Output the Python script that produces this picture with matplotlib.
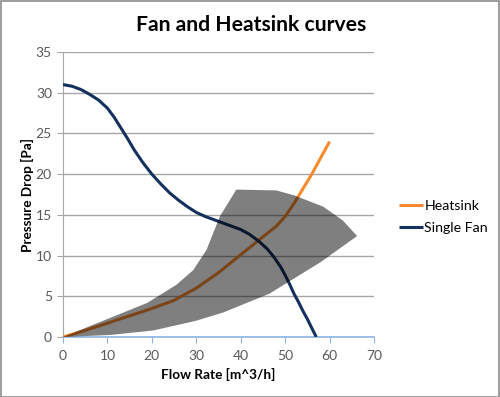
import matplotlib
matplotlib.use("Agg")
import matplotlib.pyplot as plt
from matplotlib.patches import Polygon, Rectangle

# Data
heatsink_x = [0, 5, 10, 15, 20, 25, 30, 35, 40, 45, 48, 50, 52, 54, 56, 58, 60]
heatsink_y = [0, 0.8, 1.7, 2.6, 3.5, 4.5, 6.0, 7.9, 10.1, 12.3, 13.6, 14.8, 16.4, 18.2, 20.0, 22.0, 24.0]

fan_x = [0, 2, 4, 6, 8, 10, 11.5, 13, 14.5, 16, 18, 20, 22, 24, 26, 28, 30, 32, 34, 36, 38, 40,
         42, 44, 46, 47.5, 49, 50, 51, 52, 53, 54, 55, 56, 57]
fan_y = [31, 30.8, 30.4, 29.8, 29.1, 28.1, 27.0, 25.7, 24.4, 23.0, 21.4, 20.0, 18.8, 17.7, 16.8, 16.0,
         15.3, 14.8, 14.4, 14.0, 13.6, 13.2, 12.6, 11.8, 10.8, 9.8, 8.6, 7.6, 6.5, 5.3, 4.3, 3.2, 2.2,
         1.1, 0]

region_x = [0, 19, 25.5, 29.3, 32.3, 35.3, 39, 48, 52, 58.6, 63, 66.2, 58, 46.4, 36, 30, 20.3, 10.6]
region_y = [0, 4.2, 6.4, 8.2, 10.7, 14.8, 18.1, 18.0, 17.4, 16.0, 14.3, 12.4, 9.2, 5.3, 3.0, 2.0, 0.8, 0.25]

xticks = [0, 10, 20, 30, 40, 50, 60, 70]
yticks = [0, 5, 10, 15, 20, 25, 30, 35]

plt.rcParams['font.family'] = ['Lato', 'DejaVu Sans']

W, H = 500, 397
fig = plt.figure(figsize=(W / 100, H / 100), dpi=100)
fig.patch.set_facecolor('white')
fig.patches.append(Rectangle((0.5 / W, 0.5 / H), 1 - 1.5 / W, 1 - 1.5 / H, transform=fig.transFigure,
                             fill=False, edgecolor='#8c8c8c', linewidth=1.2))

ax = fig.add_axes([63 / W, 1 - 337 / H, (374 - 63) / W, (337 - 52) / H])
ax.set_xlim(0, 70)
ax.set_ylim(0, 35)

ax.plot(heatsink_x, heatsink_y, color='#F7892F', linewidth=2.2, label='Heatsink', zorder=3,
        solid_capstyle='butt')
ax.plot(fan_x, fan_y, color='#14305E', linewidth=2.2, label='Single Fan', zorder=3,
        solid_capstyle='butt')

ax.add_patch(Polygon(list(zip(region_x, region_y)), closed=True, facecolor='black', alpha=0.5,
                     edgecolor='none', zorder=4))

ax.set_xticks(xticks)
ax.set_yticks(yticks)
ax.yaxis.grid(True, color='#a6a6a6', linewidth=1)
ax.set_axisbelow(True)

for s in ['top', 'right']:
    ax.spines[s].set_visible(False)
ax.spines['left'].set_color('#a6a6a6')
ax.spines['bottom'].set_color('#8eb4e3')
ax.spines['bottom'].set_linewidth(1.2)
ax.tick_params(axis='x', colors='#8eb4e3', direction='out', length=4, labelcolor='#595959',
               labelsize=10, pad=5)
ax.tick_params(axis='y', colors='#a6a6a6', direction='out', length=4, labelcolor='#595959',
               labelsize=10, pad=4)

ax.set_xlabel('Flow Rate [m^3/h]', fontsize=9.8, fontweight='bold', labelpad=5)
ax.set_ylabel('Pressure Drop [Pa]', fontsize=9.8, fontweight='bold', labelpad=1)

fig.text(251 / W, 1 - 25 / H, 'Fan and Heatsink curves', ha='center', va='center',
         fontsize=15.2, fontweight='bold')

fig.legend(loc='center left', bbox_to_anchor=(399 / W, 1 - 217 / H), frameon=False,
           fontsize=10.2, handlelength=1.7, handletextpad=0.1, labelspacing=0.75, borderpad=0,
           borderaxespad=0)

fig.savefig('out.png', dpi=100, facecolor='white')
